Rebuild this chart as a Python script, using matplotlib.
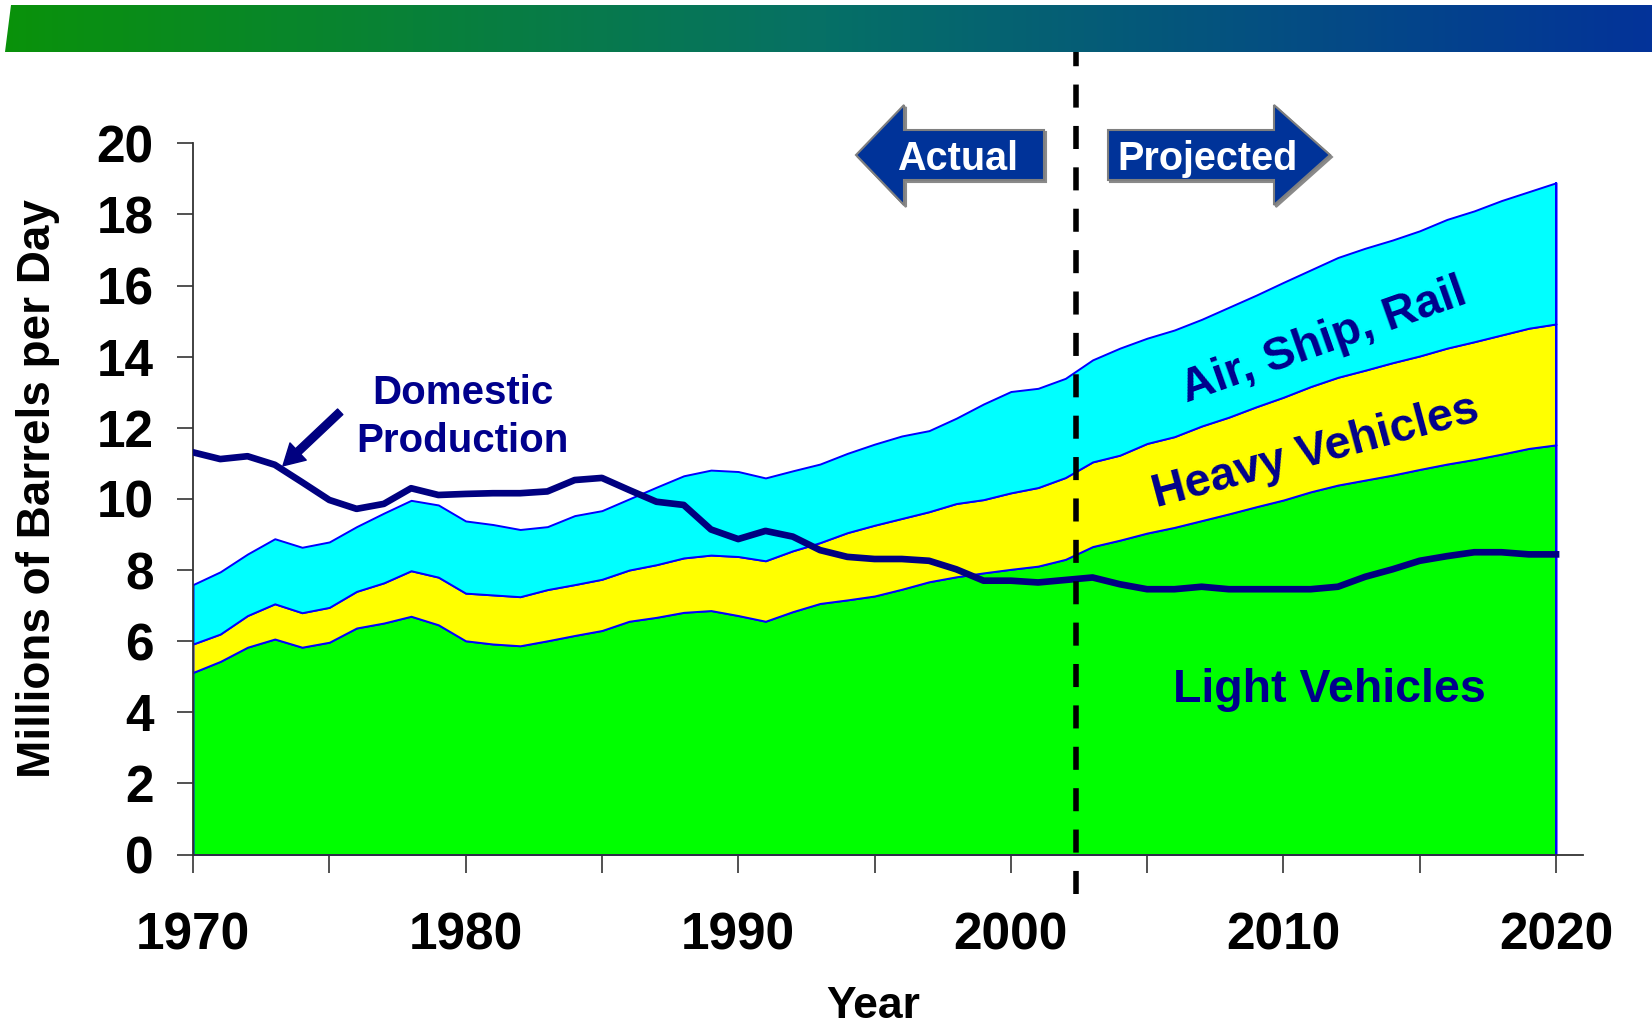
import numpy as np
import matplotlib
matplotlib.use("Agg")
import matplotlib.pyplot as plt
import matplotlib.patches as mpatches
from matplotlib.transforms import Affine2D
from matplotlib.colors import LinearSegmentedColormap

# data (millions of barrels per day)
years = list(range(1970, 2021))
light_top = [5.12, 5.43, 5.83, 6.06, 5.83, 5.97, 6.37, 6.51, 6.70, 6.46,
             6.01, 5.92, 5.87, 6.01, 6.16, 6.30, 6.56, 6.67, 6.81, 6.86,
             6.72, 6.56, 6.83, 7.06, 7.16, 7.27, 7.46, 7.67, 7.81, 7.92,
             8.02, 8.11, 8.30, 8.66, 8.84, 9.04, 9.20, 9.39, 9.58, 9.78,
             9.97, 10.20, 10.39, 10.53, 10.67, 10.83, 10.98, 11.11, 11.26, 11.42,
             11.52]
heavy_top = [5.92, 6.20, 6.72, 7.05, 6.80, 6.95, 7.40, 7.64, 7.98, 7.80,
             7.35, 7.30, 7.25, 7.45, 7.59, 7.74, 8.00, 8.15, 8.34, 8.42,
             8.38, 8.26, 8.54, 8.77, 9.05, 9.26, 9.45, 9.64, 9.87, 9.98,
             10.17, 10.32, 10.60, 11.04, 11.23, 11.56, 11.75, 12.05, 12.30, 12.59,
             12.86, 13.16, 13.42, 13.62, 13.83, 14.02, 14.24, 14.42, 14.61, 14.80,
             14.92]
total_top = [7.59, 7.95, 8.45, 8.88, 8.64, 8.79, 9.22, 9.60, 9.96, 9.83,
             9.38, 9.28, 9.14, 9.22, 9.53, 9.67, 10.00, 10.33, 10.65, 10.81,
             10.77, 10.59, 10.79, 10.98, 11.28, 11.54, 11.77, 11.92, 12.27, 12.67,
             13.02, 13.11, 13.39, 13.91, 14.24, 14.52, 14.75, 15.05, 15.39, 15.73,
             16.09, 16.44, 16.79, 17.05, 17.28, 17.54, 17.86, 18.10, 18.39, 18.64,
             18.89]
domestic = [11.31, 11.12, 11.20, 10.96, 10.47, 9.97, 9.72, 9.86, 10.30, 10.11,
            10.14, 10.16, 10.16, 10.21, 10.53, 10.59, 10.25, 9.92, 9.83, 9.14,
            8.87, 9.10, 8.94, 8.56, 8.37, 8.31, 8.31, 8.26, 8.02, 7.70,
            7.70, 7.65, 7.72, 7.79, 7.60, 7.46, 7.46, 7.53, 7.46, 7.46,
            7.46, 7.46, 7.53, 7.81, 8.02, 8.26, 8.39, 8.50, 8.50, 8.44,
            8.44]
split_year = 2002.4
xtick_labels = ["1970", "", "1980", "", "1990", "", "2000", "", "2010", "", "2020"]

W, H = 1652, 1028
NAVY = "#00008c"
BOLD = ["Liberation Sans", "DejaVu Sans"]
NARROW = ["Liberation Sans Narrow", "Liberation Sans", "DejaVu Sans"]

plt.rcParams["lines.scale_dashes"] = False

fig = plt.figure(figsize=(W / 100, H / 100), dpi=100)
px = Affine2D().scale(1 / W, -1 / H).translate(0, 1) + fig.transFigure

ax = fig.add_axes([193 / W, 1 - 854.5 / H, 1390.3 / W, 711.2 / H])
ax.set_xlim(1970, 2021)
ax.set_ylim(0, 20)

# stacked areas
ax.fill_between(years, 0, light_top, facecolor="#00ff00", edgecolor="#0000ff", lw=1.4, zorder=2)
ax.fill_between(years, light_top, heavy_top, facecolor="#ffff00", edgecolor="#0000ff", lw=1.4, zorder=2)
ax.fill_between(years, heavy_top, total_top, facecolor="#00ffff", edgecolor="#0000ff", lw=1.4, zorder=2)
ax.plot([1970, 1970], [0, total_top[0]], color="#0000ff", lw=1.4, zorder=2)
ax.plot([2020, 2020], [0, total_top[-1]], color="#0000ff", lw=1.4, zorder=2)

# domestic production
ax.plot(years, domestic, color="#000080", lw=4.8, zorder=4, solid_joinstyle="round")

# actual / projected divider
ax.plot([split_year, split_year], [-1.11, 22.68], color="black", lw=4.0,
        dashes=(16.6, 13.2), clip_on=False, zorder=6)

# axes styling
for s in ["top", "right"]:
    ax.spines[s].set_visible(False)
for s in ["left", "bottom"]:
    ax.spines[s].set_color("#333333")
    ax.spines[s].set_linewidth(1.3)
ax.set_xticks(range(1970, 2021, 5))
ax.set_xticklabels(xtick_labels)
ax.set_yticks(range(0, 21, 2))
ax.tick_params(axis="x", length=13, width=1.2, color="#333333", pad=28)
ax.tick_params(axis="y", length=11.3, width=1.2, color="#333333", pad=17)
for lab in ax.get_xticklabels() + ax.get_yticklabels():
    lab.set_family(NARROW)
    lab.set_fontweight("bold")
    lab.set_fontsize(37)

fig.text(50 / W, 1 - 489 / H, "Millions of Barrels per Day", rotation=90,
         rotation_mode="anchor", ha="center", va="baseline",
         family=BOLD, fontweight="bold", fontsize=33)
fig.text(873 / W, 1 - 1018 / H, "Year", ha="center", va="baseline",
         family=BOLD, fontweight="bold", fontsize=32)

# area labels
ax.text(2011.70, 4.30, "Light Vehicles", ha="center", va="baseline", color=NAVY,
        family=BOLD, fontweight="bold", fontsize=33.5, zorder=5)
ax.text(2011.30, 10.99, "Heavy Vehicles", ha="center", va="baseline", color=NAVY,
        rotation=15, rotation_mode="anchor",
        family=BOLD, fontweight="bold", fontsize=33.5, zorder=5)
ax.text(2011.64, 14.12, "Air, Ship, Rail", ha="center", va="baseline", color=NAVY,
        rotation=19.5, rotation_mode="anchor",
        family=BOLD, fontweight="bold", fontsize=33.5, zorder=5)

# domestic production callout
ax.text(1979.89, 12.67, "Domestic", ha="center", va="baseline", color=NAVY,
        family=BOLD, fontweight="bold", fontsize=29)
ax.text(1979.89, 11.33, "Production", ha="center", va="baseline", color=NAVY,
        family=BOLD, fontweight="bold", fontsize=29)
ax.annotate("", xy=(1973.30, 10.93), xytext=(1975.40, 12.45),
            arrowprops=dict(width=5.5, headwidth=17, headlength=15, shrink=0,
                            facecolor="#000080", edgecolor="#000080"))

# banner with gradient
bax = fig.add_axes([0, 0, 1, 1], zorder=10)
bax.set_xlim(0, W)
bax.set_ylim(H, 0)
bax.axis("off")
bax.patch.set_alpha(0)
cmap = LinearSegmentedColormap.from_list(
    "banner", [(0, "#0a920a"), (0.5, "#067066"), (1, "#033399")])
grad = np.linspace(0, 1, 512).reshape(1, -1)
img = bax.imshow(grad, cmap=cmap, aspect="auto", extent=[0, W, 52, 5])
clip = mpatches.Polygon([(11, 5), (W, 5), (W, 52), (5, 52)], closed=True,
                        transform=bax.transData, facecolor="none", edgecolor="none")
bax.add_patch(clip)
img.set_clip_path(clip)
bax.set_xlim(0, W)
bax.set_ylim(H, 0)


def block_arrow(tip, head_base, body_end, y_mid, half_head, half_body):
    return [(tip, y_mid), (head_base, y_mid - half_head), (head_base, y_mid - half_body),
            (body_end, y_mid - half_body), (body_end, y_mid + half_body),
            (head_base, y_mid + half_body), (head_base, y_mid + half_head)]


arrows = [block_arrow(856, 904, 1044, 155, 50, 25),
          block_arrow(1330, 1274, 1108, 155, 50, 25)]
for pts in arrows:
    shadow = mpatches.Polygon([(x + 2, y + 2) for x, y in pts], closed=True,
                              transform=px, facecolor="#8a8a8a", edgecolor="#8a8a8a", lw=1.5)
    fig.patches.append(shadow)
    poly = mpatches.Polygon(pts, closed=True, transform=px,
                            facecolor="#003399", edgecolor="#7f7f7f", lw=1.5)
    fig.patches.append(poly)

fig.text(957.8 / W, 1 - 170 / H, "Actual", ha="center", va="baseline", color="white",
         family=BOLD, fontweight="bold", fontsize=28.5)
fig.text(1207.5 / W, 1 - 170 / H, "Projected", ha="center", va="baseline", color="white",
         family=BOLD, fontweight="bold", fontsize=28.5)

fig.savefig("out.png", dpi=100)
